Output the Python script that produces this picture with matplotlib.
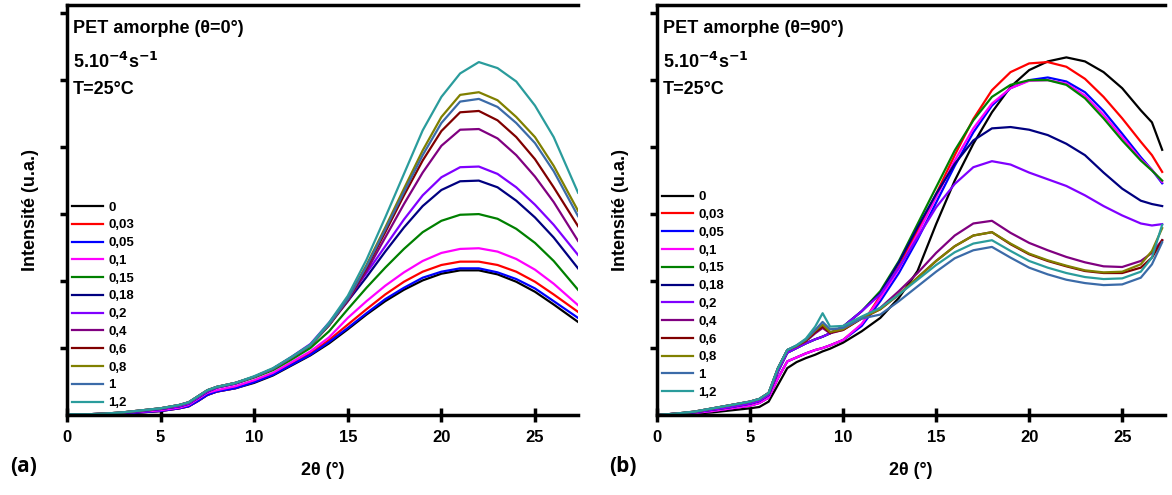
import matplotlib
matplotlib.use("Agg")
import matplotlib.pyplot as plt

plt.rcParams['font.family'] = ['Liberation Sans', 'DejaVu Sans']
plt.rcParams['font.weight'] = 'bold'
plt.rcParams['mathtext.default'] = 'bf'

labels = ["0", "0,03", "0,05", "0,1", "0,15", "0,18", "0,2", "0,4", "0,6", "0,8", "1", "1,2"]
colors = ["#000000", "#FF0000", "#0000FF", "#FF00FF", "#008000", "#000080",
          "#8000FF", "#800080", "#800000", "#808000", "#3B6BA8", "#2A9C9C"]

# ---- (a) theta = 0 deg ----
x_a = [0, 1, 2, 3, 4, 5, 6, 6.5, 7, 7.5, 8, 9, 10, 11, 12, 13, 14, 15, 16, 17,
       18, 19, 20, 21, 22, 23, 24, 25, 26, 27.3]

low_A = [0.01, 0.01, 0.02, 0.04, 0.07, 0.10, 0.15, 0.19, 0.28, 0.37, 0.42, 0.48]
low_Am = [0.01, 0.01, 0.02, 0.03, 0.06, 0.09, 0.13, 0.17, 0.26, 0.35, 0.41, 0.47]
low_M = [0.00, 0.01, 0.01, 0.03, 0.05, 0.07, 0.11, 0.15, 0.24, 0.33, 0.37, 0.43]
low_B = [0.00, 0.00, 0.01, 0.02, 0.04, 0.06, 0.10, 0.13, 0.21, 0.30, 0.35, 0.40]

a_0 = low_B + [0.48, 0.59, 0.74, 0.89, 1.07, 1.28, 1.5, 1.7, 1.87, 2.01, 2.11, 2.16, 2.16, 2.1, 1.99, 1.84, 1.65, 1.39]
a_003 = low_B + [0.5, 0.61, 0.76, 0.92, 1.12, 1.35, 1.58, 1.8, 1.99, 2.14, 2.24, 2.29, 2.29, 2.24, 2.14, 1.99, 1.8, 1.54]
a_005 = low_B + [0.49, 0.6, 0.75, 0.9, 1.09, 1.3, 1.52, 1.73, 1.9, 2.05, 2.14, 2.19, 2.19, 2.13, 2.03, 1.89, 1.7, 1.45]
a_01 = low_M + [0.52, 0.63, 0.79, 0.95, 1.16, 1.45, 1.7, 1.93, 2.13, 2.3, 2.42, 2.48, 2.49, 2.44, 2.33, 2.17, 1.96, 1.64]
a_015 = low_Am + [0.56, 0.67, 0.83, 1.0, 1.25, 1.58, 1.9, 2.2, 2.48, 2.73, 2.9, 2.99, 3.0, 2.93, 2.78, 2.57, 2.3, 1.87]
a_018 = low_Am + [0.57, 0.69, 0.86, 1.05, 1.36, 1.7, 2.06, 2.44, 2.8, 3.12, 3.36, 3.49, 3.5, 3.4, 3.2, 2.95, 2.65, 2.19]
a_02 = low_Am + [0.57, 0.69, 0.87, 1.06, 1.38, 1.74, 2.12, 2.52, 2.92, 3.28, 3.55, 3.7, 3.71, 3.6, 3.4, 3.14, 2.84, 2.39]
a_04 = low_A + [0.57, 0.69, 0.86, 1.04, 1.34, 1.7, 2.15, 2.65, 3.15, 3.62, 4.02, 4.26, 4.27, 4.13, 3.88, 3.56, 3.18, 2.6]
a_06 = low_A + [0.57, 0.69, 0.86, 1.04, 1.34, 1.72, 2.2, 2.73, 3.28, 3.8, 4.24, 4.52, 4.54, 4.4, 4.15, 3.82, 3.4, 2.82]
a_08 = low_A + [0.57, 0.69, 0.86, 1.04, 1.35, 1.74, 2.24, 2.8, 3.38, 3.95, 4.45, 4.78, 4.82, 4.7, 4.45, 4.15, 3.72, 3.05]
a_1 = low_A + [0.57, 0.69, 0.86, 1.04, 1.35, 1.73, 2.22, 2.77, 3.33, 3.88, 4.36, 4.68, 4.72, 4.6, 4.36, 4.06, 3.64, 2.97]
a_12 = low_A + [0.58, 0.70, 0.87, 1.05, 1.38, 1.78, 2.32, 2.95, 3.6, 4.25, 4.75, 5.1, 5.27, 5.18, 4.98, 4.62, 4.15, 3.32]

# ---- (b) theta = 90 deg ----
x_b = [0, 1, 2, 3, 4, 5, 5.5, 6, 6.5, 7, 7.5, 8, 8.5, 8.9, 9.3, 10, 11, 12, 13, 14,
       15, 16, 17, 18, 19, 20, 21, 22, 23, 24, 25, 26, 26.6, 27.15]

b_0 = [0, 0.01, 0.02, 0.04, 0.07, 0.10, 0.12, 0.20, 0.45, 0.70, 0.79, 0.85, 0.90, 0.95, 0.99, 1.08, 1.25,
       1.45, 1.75, 2.15, 2.85, 3.5, 4.05, 4.52, 4.9, 5.15, 5.28, 5.34, 5.28, 5.12, 4.88, 4.55, 4.37, 3.96]
b_003 = [0, 0.01, 0.03, 0.06, 0.10, 0.14, 0.18, 0.26, 0.55, 0.80, 0.86, 0.92, 0.97, 1.0, 1.04, 1.12, 1.35,
         1.78, 2.22, 2.75, 3.3, 3.88, 4.42, 4.85, 5.12, 5.25, 5.27, 5.2, 5.02, 4.75, 4.43, 4.08, 3.88, 3.63]
b_005 = [0, 0.01, 0.03, 0.06, 0.10, 0.14, 0.18, 0.26, 0.55, 0.80, 0.86, 0.92, 0.97, 1.0, 1.04, 1.12, 1.33,
         1.7, 2.12, 2.62, 3.17, 3.72, 4.22, 4.62, 4.88, 5.0, 5.04, 4.98, 4.82, 4.54, 4.2, 3.85, 3.66, 3.46]
b_01 = [0, 0.01, 0.03, 0.06, 0.10, 0.14, 0.18, 0.26, 0.55, 0.80, 0.86, 0.92, 0.97, 1.0, 1.04, 1.12, 1.36,
        1.75, 2.18, 2.7, 3.25, 3.8, 4.28, 4.65, 4.88, 4.99, 5.0, 4.95, 4.77, 4.48, 4.15, 3.82, 3.66, 3.48]
b_015 = [0, 0.02, 0.04, 0.08, 0.12, 0.17, 0.21, 0.30, 0.65, 0.93, 1.0, 1.07, 1.13, 1.17, 1.22, 1.32, 1.55,
         1.85, 2.3, 2.85, 3.4, 3.95, 4.4, 4.75, 4.93, 5.0, 5.0, 4.93, 4.73, 4.43, 4.1, 3.8, 3.65, 3.5]
b_018 = [0, 0.02, 0.04, 0.08, 0.12, 0.17, 0.21, 0.30, 0.65, 0.93, 1.0, 1.07, 1.13, 1.17, 1.22, 1.32, 1.55,
         1.82, 2.28, 2.8, 3.3, 3.75, 4.1, 4.28, 4.3, 4.26, 4.18, 4.05, 3.88, 3.62, 3.38, 3.2, 3.15, 3.12]
b_02 = [0, 0.02, 0.04, 0.08, 0.12, 0.17, 0.21, 0.30, 0.65, 0.93, 1.0, 1.07, 1.13, 1.17, 1.22, 1.32, 1.55,
        1.8, 2.2, 2.65, 3.1, 3.45, 3.7, 3.79, 3.74, 3.62, 3.52, 3.42, 3.28, 3.12, 2.98, 2.86, 2.83, 2.85]
b_04 = [0, 0.02, 0.05, 0.10, 0.15, 0.20, 0.24, 0.33, 0.70, 0.97, 1.03, 1.10, 1.22, 1.30, 1.22, 1.27, 1.45,
        1.6, 1.85, 2.12, 2.42, 2.68, 2.86, 2.9, 2.72, 2.57, 2.46, 2.36, 2.28, 2.22, 2.21, 2.3, 2.42, 2.61]
b_06 = [0, 0.02, 0.05, 0.10, 0.15, 0.20, 0.24, 0.33, 0.70, 0.97, 1.03, 1.11, 1.24, 1.32, 1.23, 1.27, 1.44,
        1.58, 1.8, 2.05, 2.3, 2.52, 2.68, 2.73, 2.55, 2.4, 2.3, 2.22, 2.15, 2.12, 2.12, 2.2, 2.35, 2.61]
b_08 = [0, 0.02, 0.05, 0.10, 0.15, 0.20, 0.24, 0.33, 0.70, 0.97, 1.03, 1.12, 1.26, 1.35, 1.24, 1.28, 1.45,
        1.58, 1.8, 2.05, 2.3, 2.52, 2.68, 2.73, 2.56, 2.41, 2.31, 2.23, 2.16, 2.13, 2.14, 2.25, 2.45, 2.79]
b_1 = [0, 0.02, 0.05, 0.10, 0.15, 0.20, 0.24, 0.33, 0.70, 0.97, 1.04, 1.13, 1.27, 1.39, 1.28, 1.30, 1.44,
       1.5, 1.7, 1.92, 2.14, 2.34, 2.46, 2.51, 2.35, 2.2, 2.1, 2.02, 1.97, 1.94, 1.95, 2.05, 2.25, 2.58]
b_12 = [0, 0.02, 0.05, 0.10, 0.15, 0.20, 0.24, 0.33, 0.70, 0.97, 1.04, 1.14, 1.32, 1.52, 1.32, 1.33, 1.47,
        1.6, 1.8, 2.02, 2.24, 2.43, 2.56, 2.61, 2.45, 2.3, 2.2, 2.12, 2.06, 2.03, 2.04, 2.14, 2.35, 2.84]

series_a = [a_0, a_003, a_005, a_01, a_015, a_018, a_02, a_04, a_06, a_08, a_1, a_12]
series_b = [b_0, b_003, b_005, b_01, b_015, b_018, b_02, b_04, b_06, b_08, b_1, b_12]

fig = plt.figure(figsize=(11.72, 4.95), dpi=100)
ax1 = fig.add_axes([0.0572, 0.1616, 0.436, 0.828])
ax2 = fig.add_axes([0.5606, 0.1616, 0.4334, 0.828])


def style_axes(ax, xs, data, angle, leg_y):
    for ys, c, lab in zip(data, colors, labels):
        ax.plot(xs, ys, color=c, lw=1.6, label=lab, solid_joinstyle='round')
    ax.set_xlim(0, 27.3)
    ax.set_ylim(0, 6.12)
    ax.set_xticks([0, 5, 10, 15, 20, 25])
    ax.set_yticks([1, 2, 3, 4, 5, 6])
    ax.set_yticklabels([])
    ax.tick_params(axis='x', direction='inout', length=10, width=2.5, labelsize=12, pad=6)
    ax.tick_params(axis='y', direction='out', length=5, width=2.5)
    for t in ax.get_xticklabels():
        t.set_fontweight('bold')
    ax.spines['right'].set_visible(False)
    for s in ['left', 'top', 'bottom']:
        ax.spines[s].set_linewidth(2.5)
    ax.set_ylabel("Intensité (u.a.)", fontsize=13, fontweight='bold', labelpad=12)
    ax.set_xlabel("2θ (°)", fontsize=13, fontweight='bold', labelpad=12)
    ax.text(0.012, 0.944, "PET amorphe (θ=" + angle + "°)", transform=ax.transAxes,
            fontsize=13, fontweight='bold', va='center')
    ax.text(0.012, 0.862, r"5.10$^{\mathbf{-4}}$s$^{\mathbf{-1}}$", transform=ax.transAxes,
            fontsize=13, fontweight='bold', va='center')
    ax.text(0.012, 0.793, "T=25°C", transform=ax.transAxes,
            fontsize=13, fontweight='bold', va='center')
    leg = ax.legend(loc='lower left', bbox_to_anchor=(-0.005, leg_y), frameon=False,
                    fontsize=9.5, labelspacing=0.42, handlelength=2.3, handletextpad=0.4,
                    borderaxespad=0.2)
    for t in leg.get_texts():
        t.set_fontweight('bold')


style_axes(ax1, x_a, series_a, "0", -0.005)
style_axes(ax2, x_b, series_b, "90", 0.02)

fig.text(0.009, 0.058, "(a)", fontsize=15, fontweight='bold', family='Open Sans', va='center')
fig.text(0.520, 0.058, "(b)", fontsize=15, fontweight='bold', family='Open Sans', va='center')

fig.savefig("out.png", dpi=100)
